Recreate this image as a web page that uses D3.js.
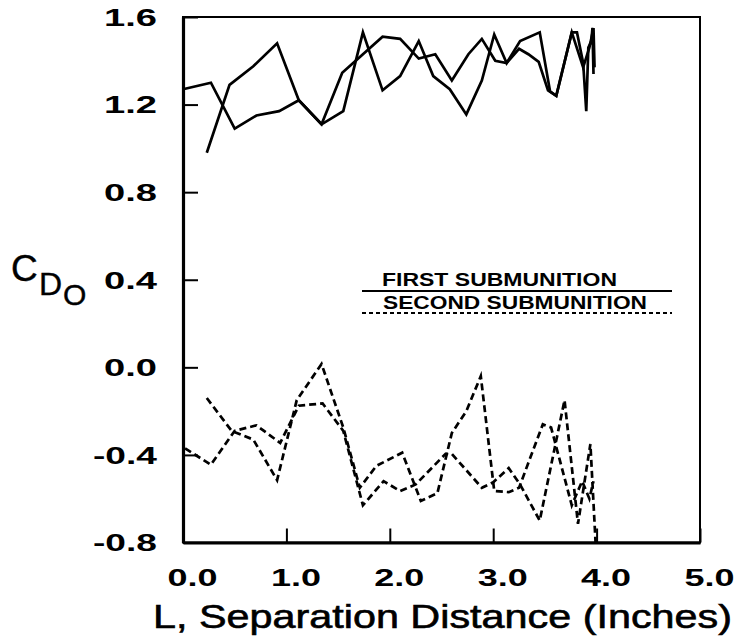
<!DOCTYPE html>
<html>
<head>
<meta charset="utf-8">
<script src="https://cdn.jsdelivr.net/npm/d3@7"></script>
<style>
  html, body { margin: 0; padding: 0; background: #fff; }
  svg { display: block; }
  text { font-family: "Liberation Sans", Arial, Helvetica, sans-serif; fill: #000; }
</style>
</head>
<body>
<svg id="chart" width="738" height="642"></svg>
<script>
// ---- data ----
const xTicks = [0, 1, 2, 3, 4, 5];
const xTickLabels = ["0.0", "1.0", "2.0", "3.0", "4.0", "5.0"];
const yTicks = [-0.8, -0.4, 0.0, 0.4, 0.8, 1.2, 1.6];
const yTickLabels = ["-0.8", "-0.4", "0.0", "0.4", "0.8", "1.2", "1.6"];

const firstAX = [0.00,0.27,0.50,0.71,0.93,1.12,1.34,1.55,1.74,1.93,2.10,2.28,2.42,2.58,2.74,2.89,3.01,3.13,3.26,3.45,3.55,3.61,3.76,3.87,3.93,3.97,3.98];
const firstAY = [1.27,1.30,1.09,1.15,1.17,1.22,1.11,1.17,1.53,1.265,1.33,1.49,1.33,1.27,1.155,1.31,1.52,1.39,1.49,1.53,1.26,1.24,1.53,1.37,1.46,1.55,1.37];

const firstBX = [0.23,0.45,0.68,0.91,1.12,1.34,1.54,1.93,2.10,2.28,2.44,2.60,2.76,2.89,3.02,3.13,3.25,3.34,3.44,3.53,3.61,3.76,3.81,3.87,3.90,3.92,3.95,3.96,3.97];
const firstBY = [0.98,1.29,1.375,1.48,1.22,1.11,1.345,1.51,1.50,1.41,1.43,1.31,1.43,1.50,1.40,1.39,1.455,1.43,1.395,1.265,1.24,1.53,1.53,1.39,1.17,1.46,1.49,1.55,1.34];

const secondAX = [0.02,0.27,0.50,0.71,0.94,1.12,1.35,1.55,1.74,1.94,2.10,2.25,2.54,2.60,2.89,3.00,3.15,3.26,3.45,3.69,3.82,3.94,3.99];
const secondAY = [-0.37,-0.445,-0.29,-0.265,-0.345,-0.175,-0.165,-0.29,-0.63,-0.52,-0.565,-0.535,-0.395,-0.395,-0.55,-0.525,-0.46,-0.535,-0.70,-0.15,-0.715,-0.35,-0.80];

const secondBX = [0.23,0.47,0.68,0.91,1.10,1.34,1.55,1.71,1.87,2.12,2.30,2.46,2.60,2.74,2.88,3.01,3.15,3.25,3.48,3.56,3.76,3.86,3.93,3.97];
const secondBY = [-0.14,-0.29,-0.33,-0.515,-0.15,0.015,-0.275,-0.55,-0.45,-0.39,-0.61,-0.575,-0.30,-0.20,-0.04,-0.565,-0.57,-0.55,-0.26,-0.275,-0.63,-0.52,-0.60,-0.52];

const legendLabels = ["FIRST SUBMUNITION", "SECOND SUBMUNITION"];
const xTitle = "L, Separation Distance (Inches)";

// ---- layout ----
const svg = d3.select("#chart");
const L = 183, R = 700, T = 17, B = 542.5;
const x = d3.scaleLinear().domain([0, 5]).range([L, R]);
const y = d3.scaleLinear().domain([-0.8, 1.6]).range([B, T]);

// frame (top / right)
svg.append("rect")
  .attr("x", L).attr("y", T).attr("width", R - L).attr("height", B - T)
  .attr("fill", "none").attr("stroke", "#000").attr("stroke-width", 2);

// y axis
const yAxis = d3.axisLeft(y).tickValues(yTicks)
  .tickFormat((d, i) => yTickLabels[i])
  .tickSizeInner(-15).tickSizeOuter(0).tickPadding(26);
const gy = svg.append("g").attr("transform", `translate(${L},0)`).call(yAxis);
gy.select(".domain").attr("stroke-width", 3.2);
gy.selectAll(".tick line").attr("stroke-width", 2);
gy.selectAll(".tick text")
  .attr("font-size", 23).attr("font-weight", "bold")
  .attr("font-family", "'Liberation Sans', Arial, sans-serif")
  .attr("dy", "0.36em")
  .attr("textLength", (d, i) => yTickLabels[i].length === 4 ? 64 : 53)
  .attr("lengthAdjust", "spacingAndGlyphs");

// x axis
const xAxis = d3.axisBottom(x).tickValues(xTicks)
  .tickFormat((d, i) => xTickLabels[i])
  .tickSizeInner(-14).tickSizeOuter(0).tickPadding(27);
const gx = svg.append("g").attr("transform", `translate(0,${B})`).call(xAxis);
gx.select(".domain").attr("stroke-width", 3.2);
gx.selectAll(".tick line").attr("stroke-width", 2);
gx.selectAll(".tick text")
  .attr("font-size", 23).attr("font-weight", "bold")
  .attr("font-family", "'Liberation Sans', Arial, sans-serif")
  .attr("dx", 9)
  .attr("textLength", 50)
  .attr("lengthAdjust", "spacingAndGlyphs");

// lines
const line = d3.line().x(d => x(d[0])).y(d => y(d[1]));
const zip = (xs, ys) => xs.map((v, i) => [v, ys[i]]);
const series = [
  { data: zip(firstAX, firstAY), dash: null },
  { data: zip(firstBX, firstBY), dash: null },
  { data: zip(secondAX, secondAY), dash: "7,4" },
  { data: zip(secondBX, secondBY), dash: "7,4" }
];
svg.append("g").selectAll("path").data(series).join("path")
  .attr("d", d => line(d.data))
  .attr("fill", "none").attr("stroke", "#000")
  .attr("stroke-width", 2.7)
  .attr("stroke-linejoin", "miter")
  .attr("stroke-dasharray", d => d.dash);

// legend
const lg = svg.append("g");
lg.append("text").attr("x", 382).attr("y", 286)
  .attr("font-size", 18).attr("font-weight", "bold")
  .attr("textLength", 235).attr("lengthAdjust", "spacingAndGlyphs")
  .text(legendLabels[0]);
lg.append("line").attr("x1", 362).attr("x2", 672).attr("y1", 291).attr("y2", 291)
  .attr("stroke", "#000").attr("stroke-width", 2);
lg.append("text").attr("x", 383).attr("y", 309)
  .attr("font-size", 18).attr("font-weight", "bold")
  .attr("textLength", 264).attr("lengthAdjust", "spacingAndGlyphs")
  .text(legendLabels[1]);
lg.append("line").attr("x1", 362).attr("x2", 672).attr("y1", 313).attr("y2", 313)
  .attr("stroke", "#000").attr("stroke-width", 2).attr("stroke-dasharray", "4,3");

// x title
svg.append("text").attr("x", 153).attr("y", 627.5)
  .attr("font-size", 32.5)
  .attr("stroke", "#000").attr("stroke-width", 0.6)
  .attr("textLength", 579).attr("lengthAdjust", "spacingAndGlyphs")
  .text(xTitle);

// y title C_{D_o}
const yt = svg.append("g").attr("stroke", "#000").attr("stroke-width", 0.4);
yt.append("text").attr("x", 11).attr("y", 281).attr("font-size", 37).text("C");
yt.append("text").attr("x", 39).attr("y", 295).attr("font-size", 32).text("D");
yt.append("text").attr("x", 63).attr("y", 305).attr("font-size", 30).text("O");
</script>
</body>
</html>
